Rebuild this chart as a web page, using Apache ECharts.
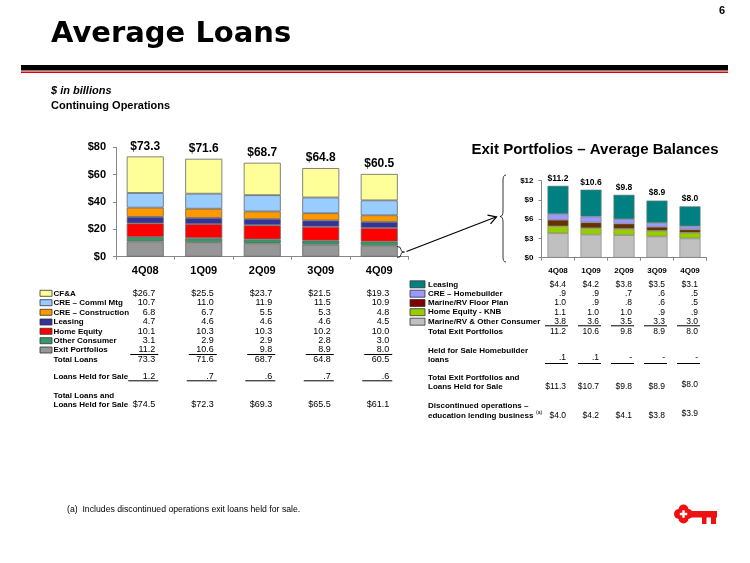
<!DOCTYPE html>
<html><head><meta charset="utf-8">
<script src="https://cdn.jsdelivr.net/npm/echarts@6/dist/echarts.min.js"></script>
<style>html,body{margin:0;padding:0;background:#fff}#c{width:750px;height:563px}</style>
</head><body><div id="c"></div>
<script>
// ---- Data ----
const categories = ['4Q08','1Q09','2Q09','3Q09','4Q09'];
const leftYTicks = [0,20,40,60,80];
const cfa = [26.7,25.5,23.7,21.5,19.3];
const commlMtg = [10.7,11.0,11.9,11.5,10.9];
const construction = [6.8,6.7,5.5,5.3,4.8];
const leasing = [4.7,4.6,4.6,4.6,4.5];
const homeEquity = [10.1,10.3,10.3,10.2,10.0];
const otherConsumer = [3.1,2.9,2.9,2.8,3.0];
const exitPortfolios = [11.2,10.6,9.8,8.9,8.0];
const totalLoans = [73.3,71.6,68.7,64.8,60.5];
const loansHeldForSale = [1.2,0.7,0.6,0.7,0.6];
const totalLoansAndHFS = [74.5,72.3,69.3,65.5,61.1];

const rightYTicks = [0,3,6,9,12];
const exitLeasing = [4.4,4.2,3.8,3.5,3.1];
const creHomebuilder = [0.9,0.9,0.7,0.6,0.5];
const marineFloorPlan = [1.0,0.9,0.8,0.6,0.5];
const homeEquityKNB = [1.1,1.0,1.0,0.9,0.9];
const marineOther = [3.8,3.6,3.5,3.3,3.0];
const totalExit = [11.2,10.6,9.8,8.9,8.0];
const hfsHomebuilder = [0.1,0.1,null,null,null];
const totalExitAndHFS = [11.3,10.7,9.8,8.9,8.0];
const discontinued = [4.0,4.2,4.1,3.8,3.9];

// ---- Styles ----
const FONT = '"Liberation Sans", Arial, sans-serif';
const leftSeries = [
  {name:'Exit Portfolios', data:exitPortfolios, color:'#969696'},
  {name:'Other Consumer', data:otherConsumer, color:'#339966'},
  {name:'Home Equity', data:homeEquity, color:'#FF0000'},
  {name:'Leasing', data:leasing, color:'#333399'},
  {name:'CRE – Construction', data:construction, color:'#FF9900'},
  {name:'CRE – Comml Mtg', data:commlMtg, color:'#99CCFF'},
  {name:'CF&A', data:cfa, color:'#FFFF99'}
];
const rightSeries = [
  {name:'Marine/RV & Other Consumer', data:marineOther, color:'#C0C0C0'},
  {name:'Home Equity - KNB', data:homeEquityKNB, color:'#99CC00'},
  {name:'Marine/RV Floor Plan', data:marineFloorPlan, color:'#663300'},
  {name:'CRE – Homebuilder', data:creHomebuilder, color:'#9999FF'},
  {name:'Leasing', data:exitLeasing, color:'#008080'}
];

function fmt(v, dollar){
  if (v == null) return '-';
  let s = v < 1 ? '.' + Math.round(v*10) : v.toFixed(1);
  return (dollar ? '$' : '') + s;
}

const chart = echarts.init(document.getElementById('c'), null, {renderer:'canvas'});

const axisLine = {show:true, lineStyle:{color:'#888', width:1}};
const option = {
  animation:false,
  backgroundColor:'#fff',
  grid:[
    {left:116, top:147.3, width:292.5, height:109.4},
    {left:541.5, top:180.7, width:165, height:77}
  ],
  xAxis:[
    {gridIndex:0, type:'category', data:categories, axisLine:axisLine,
     axisTick:{show:true, length:3, lineStyle:{color:'#888'}},
     axisLabel:{fontFamily:FONT, fontWeight:'bold', fontSize:11, color:'#000', margin:9}},
    {gridIndex:1, type:'category', data:categories, axisLine:axisLine,
     axisTick:{show:true, length:3, lineStyle:{color:'#888'}},
     axisLabel:{fontFamily:FONT, fontWeight:'bold', fontSize:8, color:'#000', margin:9}}
  ],
  yAxis:[
    {gridIndex:0, type:'value', min:leftYTicks[0], max:leftYTicks[leftYTicks.length-1], interval:20,
     axisLine:axisLine, axisTick:{show:true, length:3, lineStyle:{color:'#888'}}, splitLine:{show:false},
     axisLabel:{fontFamily:FONT, fontWeight:'bold', fontSize:11, color:'#000', margin:10, formatter:v=>'$'+v}},
    {gridIndex:1, type:'value', min:rightYTicks[0], max:rightYTicks[rightYTicks.length-1], interval:3,
     axisLine:axisLine, axisTick:{show:true, length:3, lineStyle:{color:'#888'}}, splitLine:{show:false},
     axisLabel:{fontFamily:FONT, fontWeight:'bold', fontSize:8, color:'#000', margin:8, formatter:v=>'$'+v}}
  ],
  series:[]
};
leftSeries.forEach((s,i)=>{
  option.series.push({
    type:'bar', name:s.name, stack:'L', xAxisIndex:0, yAxisIndex:0, data:s.data, barWidth:37,
    itemStyle:{color:s.color, borderColor:'#666', borderWidth:0.8},
    label: i===leftSeries.length-1 ? {show:true, position:'top', distance:4, fontFamily:FONT, fontWeight:'bold', fontSize:12, color:'#000',
      formatter:p=>'$'+totalLoans[p.dataIndex].toFixed(1)} : {show:false}
  });
});
rightSeries.forEach((s,i)=>{
  option.series.push({
    type:'bar', name:'R '+s.name, stack:'R', xAxisIndex:1, yAxisIndex:1, data:s.data, barWidth:21,
    itemStyle:{color:s.color, borderColor:'#777', borderWidth:0.6},
    label: i===rightSeries.length-1 ? {show:true, position:'top', distance:3, fontFamily:FONT, fontWeight:'bold', fontSize:8.5, color:'#000',
      formatter:p=>'$'+totalExit[p.dataIndex].toFixed(1)} : {show:false}
  });
});
chart.setOption(option);

// ---- Graphic: titles, tables, decorations ----
const g = [];
function txt(x,y,text,size,opts){
  opts = opts||{};
  g.push({type:'text', silent:true, z:10, style:{text:text, x:x, y:y,
    font:(opts.italic?'italic ':'')+(opts.bold?'bold ':'')+size+'px '+(opts.family||FONT),
    fill:opts.color||'#000', align:opts.align||'left', verticalAlign:'middle'}});
}
function line(x1,y1,x2,y2,color,w){
  g.push({type:'line', silent:true, z:10, shape:{x1:x1,y1:y1,x2:x2,y2:y2}, style:{stroke:color||'#000', lineWidth:w||1}});
}
function quad(x1,y1,cx,cy,x2,y2,w){
  g.push({type:'bezierCurve', silent:true, z:10, shape:{x1:x1,y1:y1,cpx1:cx,cpy1:cy,x2:x2,y2:y2}, style:{fill:null, stroke:'#000', lineWidth:w||0.8}});
}
function rect(x,y,w,h,fill,stroke){
  g.push({type:'rect', silent:true, z:10, shape:{x:x,y:y,width:w,height:h}, style:{fill:fill, stroke:stroke||null, lineWidth:stroke?0.8:0}});
}

// header
txt(51, 34, 'Average Loans', 29, {bold:true, family:'"DejaVu Sans", Verdana, sans-serif'});
txt(722, 11, '6', 11, {bold:true, align:'center'});
rect(21, 65, 707, 5.5, '#000');
line(21, 72.3, 728, 72.3, '#E00000', 1.4);
txt(51, 91, '$ in billions', 11, {bold:true, italic:true});
txt(51, 106, 'Continuing Operations', 11, {bold:true});

// right chart title
txt(595, 150, 'Exit Portfolios – Average Balances', 15, {bold:true, align:'center'});

// left table
const LS = 8; // label font size
const lx = categories.map(c=>chart.convertToPixel({xAxisIndex:0}, c) + 10);
const leftRows = [
  {label:'CF&A', data:cfa, color:'#FFFF99', y:293.3, dollar:true},
  {label:'CRE – Comml Mtg', data:commlMtg, color:'#99CCFF', y:302.7},
  {label:'CRE – Construction', data:construction, color:'#FF9900', y:312.3},
  {label:'Leasing', data:leasing, color:'#333399', y:322},
  {label:'Home Equity', data:homeEquity, color:'#FF0000', y:331.3},
  {label:'Other Consumer', data:otherConsumer, color:'#339966', y:340.7},
  {label:'Exit Portfolios', data:exitPortfolios, color:'#969696', y:350},
];
leftRows.forEach(r=>{
  rect(40, r.y-3, 12, 6, r.color, '#333');
  txt(53.5, r.y, r.label, LS, {bold:true});
  r.data.forEach((v,i)=>txt(lx[i], r.y, fmt(v, r.dollar), 9, {align:'right'}));
});
lx.forEach(x=>line(x-25, 354.5, x+3, 354.5, '#000', 1));
txt(53.5, 359.3, 'Total Loans', LS, {bold:true});
totalLoans.forEach((v,i)=>txt(lx[i], 359.3, fmt(v), 9, {align:'right'}));
txt(53.5, 376.7, 'Loans Held for Sale', LS, {bold:true});
loansHeldForSale.forEach((v,i)=>txt(lx[i], 376.7, fmt(v), 9, {align:'right'}));
lx.forEach(x=>line(x-27, 380.8, x+3, 380.8, '#000', 1));
txt(53.5, 395.3, 'Total Loans and', LS, {bold:true});
txt(53.5, 404.7, 'Loans Held for Sale', LS, {bold:true});
totalLoansAndHFS.forEach((v,i)=>txt(lx[i], 404.7, fmt(v,true), 9, {align:'right'}));

// right table
const rx = categories.map(c=>chart.convertToPixel({xAxisIndex:1}, c) + 8);
const rightRows = [
  {label:'Leasing', data:exitLeasing, color:'#008080', y:284.3, dollar:true},
  {label:'CRE – Homebuilder', data:creHomebuilder, color:'#9999FF', y:293.7},
  {label:'Marine/RV Floor Plan', data:marineFloorPlan, color:'#800000', y:303},
  {label:'Home Equity - KNB', data:homeEquityKNB, color:'#99CC00', y:312.2},
  {label:'Marine/RV & Other Consumer', data:marineOther, color:'#C0C0C0', y:321.7},
];
rightRows.forEach(r=>{
  rect(410, r.y-3.5, 15, 7, r.color, '#333');
  txt(428, r.y, r.label, LS, {bold:true});
  r.data.forEach((v,i)=>txt(rx[i], r.y, fmt(v, r.dollar), 8.5, {align:'right'}));
});
rx.forEach(x=>line(x-21, 325.8, x+2, 325.8, '#000', 1));
txt(428, 331.7, 'Total Exit Portfolios', LS, {bold:true});
totalExit.forEach((v,i)=>txt(rx[i], 331.7, fmt(v), 8.5, {align:'right'}));
txt(428, 350.3, 'Held for Sale Homebuilder', LS, {bold:true});
txt(428, 359.7, 'loans', LS, {bold:true});
hfsHomebuilder.forEach((v,i)=>txt(rx[i], 358, fmt(v), 8.5, {align:'right'}));
rx.forEach(x=>line(x-21, 363.5, x+2, 363.5, '#000', 1));
txt(428, 377.7, 'Total Exit Portfolios and', LS, {bold:true});
txt(428, 387, 'Loans Held for Sale', LS, {bold:true});
totalExitAndHFS.forEach((v,i)=>txt(rx[i], i===4?384.5:387, fmt(v,true), 8.5, {align:'right'}));
txt(428, 405.7, 'Discontinued operations –', LS, {bold:true});
txt(428, 415.3, 'education lending business', LS, {bold:true});
txt(536, 413, '(a)', 5, {});
discontinued.forEach((v,i)=>txt(rx[i], i===4?413.5:415.3, fmt(v,true), 8.5, {align:'right'}));

// footnote
txt(67, 510, '(a)  Includes discontinued operations exit loans held for sale.', 8.7, {});

// small brace next to 4Q09 exit bar
quad(397,246.5, 401,246.5, 401,249.5);
line(401,249.5,401,250,'#000',0.8);
quad(401,250, 401,252, 404.5,252);
quad(404.5,252, 401,252, 401,254);
line(401,254,401,254.5,'#000',0.8);
quad(401,254.5, 401,257.5, 397,257.5);
// arrow
line(406.5, 251.5, 496.5, 216.8, '#000', 1.2);
g.push({type:'polyline', silent:true, z:10, shape:{points:[[487.5,215.2],[496.5,216.8],[490.5,223.8]]}, style:{fill:null, stroke:'#000', lineWidth:1.2}});
// big curly brace
quad(506,175, 503,175, 503,180);
line(503,180,503,211,'#000',0.8);
quad(503,211, 503,216.5, 500,216.5);
quad(500,216.5, 503,216.5, 503,222);
line(503,222,503,257,'#000',0.8);
quad(503,257, 503,262, 506,262);

// key logo
const KR = '#EE1111';
[[679,514],[688,514],[683.5,509.5],[683.5,518.5]].forEach(p=>{
  g.push({type:'circle', silent:true, z:10, shape:{cx:p[0], cy:p[1], r:5}, style:{fill:KR}});
});
g.push({type:'circle', silent:true, z:10, shape:{cx:683.5, cy:514, r:6}, style:{fill:KR}});
rect(690, 511, 27, 6.5, KR);
rect(702, 515, 4.5, 9, KR);
rect(711, 515, 5, 9, KR);
rect(682.3, 510.3, 2.4, 7.4, '#fff');
rect(679.8, 512.8, 7.4, 2.4, '#fff');

chart.setOption({graphic:g});
</script>
</body></html>
